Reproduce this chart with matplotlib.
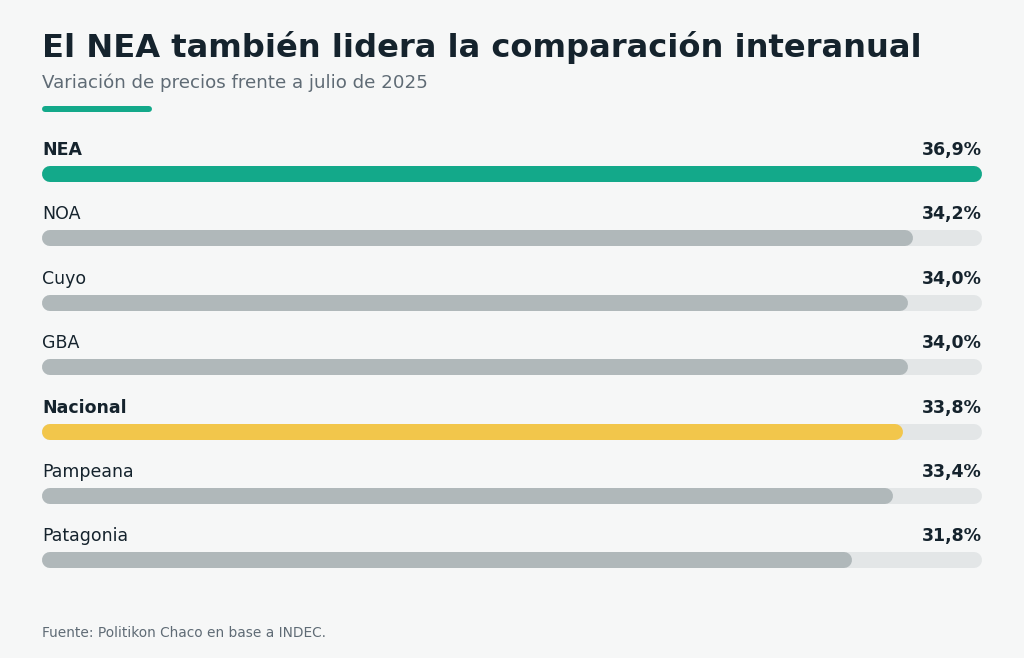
import os
import matplotlib
matplotlib.use("Agg")
import matplotlib.pyplot as plt
from matplotlib import font_manager as fm

ttf_dir = os.path.join(matplotlib.get_data_path(), "fonts", "ttf")
for f in ("DejaVuSans.ttf", "DejaVuSans-Bold.ttf"):
    p = os.path.join(ttf_dir, f)
    if os.path.exists(p):
        fm.fontManager.addfont(p)
REG = fm.FontProperties(fname=os.path.join(ttf_dir, "DejaVuSans.ttf"))
BOLD = fm.FontProperties(fname=os.path.join(ttf_dir, "DejaVuSans-Bold.ttf"))

# ---- data ----
regions = ["NEA", "NOA", "Cuyo", "GBA", "Nacional", "Pampeana", "Patagonia"]
values = [36.9, 34.2, 34.0, 34.0, 33.8, 33.4, 31.8]
value_labels = ["36,9%", "34,2%", "34,0%", "34,0%", "33,8%", "33,4%", "31,8%"]
highlight = {"NEA": "#13a98a", "Nacional": "#f2c64b"}
bold_rows = ["NEA", "Nacional"]

title = "El NEA también lidera la comparación interanual"
subtitle = "Variación de precios frente a julio de 2025"
source = "Fuente: Politikon Chaco en base a INDEC."

# ---- style ----
BG = "#f6f7f7"
DARK = "#15232d"
GREY_TXT = "#5f6b75"
TRACK = "#e3e6e7"
BAR = "#b0b8ba"


def fp(bold, size):
    f = (BOLD if bold else REG).copy()
    f.set_size(size)
    return f


W, H = 1024, 658
fig = plt.figure(figsize=(W / 100, H / 100), dpi=100, facecolor=BG)

ov = fig.add_axes([0, 0, 1, 1])
ov.set_xlim(0, W)
ov.set_ylim(H, 0)
ov.axis("off")
ov.set_facecolor(BG)

left_px, right_px = 42, 982
first_c, gap = 174, 64.4
bar_h_px = 16

xmax = max(values)
bx = fig.add_axes([left_px / W, 0, (right_px - left_px) / W, 1])
bx.set_xlim(0, xmax)
bx.set_ylim(H, 0)
bx.axis("off")
bx.patch.set_alpha(0)

lw_pt = bar_h_px * 72 / 100
r = (bar_h_px / 2) * xmax / (right_px - left_px)

for i, (reg, v, lab) in enumerate(zip(regions, values, value_labels)):
    c = first_c + i * gap
    bx.plot([r, xmax - r], [c, c], color=TRACK, lw=lw_pt,
            solid_capstyle="round", zorder=1)
    bx.plot([r, v - r], [c, c], color=highlight.get(reg, BAR), lw=lw_pt,
            solid_capstyle="round", zorder=2)
    ov.text(left_px, c - 24, reg, fontproperties=fp(reg in bold_rows, 12.5),
            color=DARK, ha="left", va="center")
    ov.text(right_px, c - 24, lab, fontproperties=fp(True, 12.5), color=DARK,
            ha="right", va="center")

ov.text(left_px, 47, title, fontproperties=fp(True, 23.15), color=DARK,
        ha="left", va="center")
ov.text(left_px, 83, subtitle, fontproperties=fp(False, 13.15), color=GREY_TXT,
        ha="left", va="center")
ov.plot([45, 149], [109, 109], color="#13a98a", lw=6 * 72 / 100,
        solid_capstyle="round")
ov.text(left_px, 633, source, fontproperties=fp(False, 9.9), color=GREY_TXT,
        ha="left", va="center")

fig.savefig("out.png", dpi=100, facecolor=BG)
